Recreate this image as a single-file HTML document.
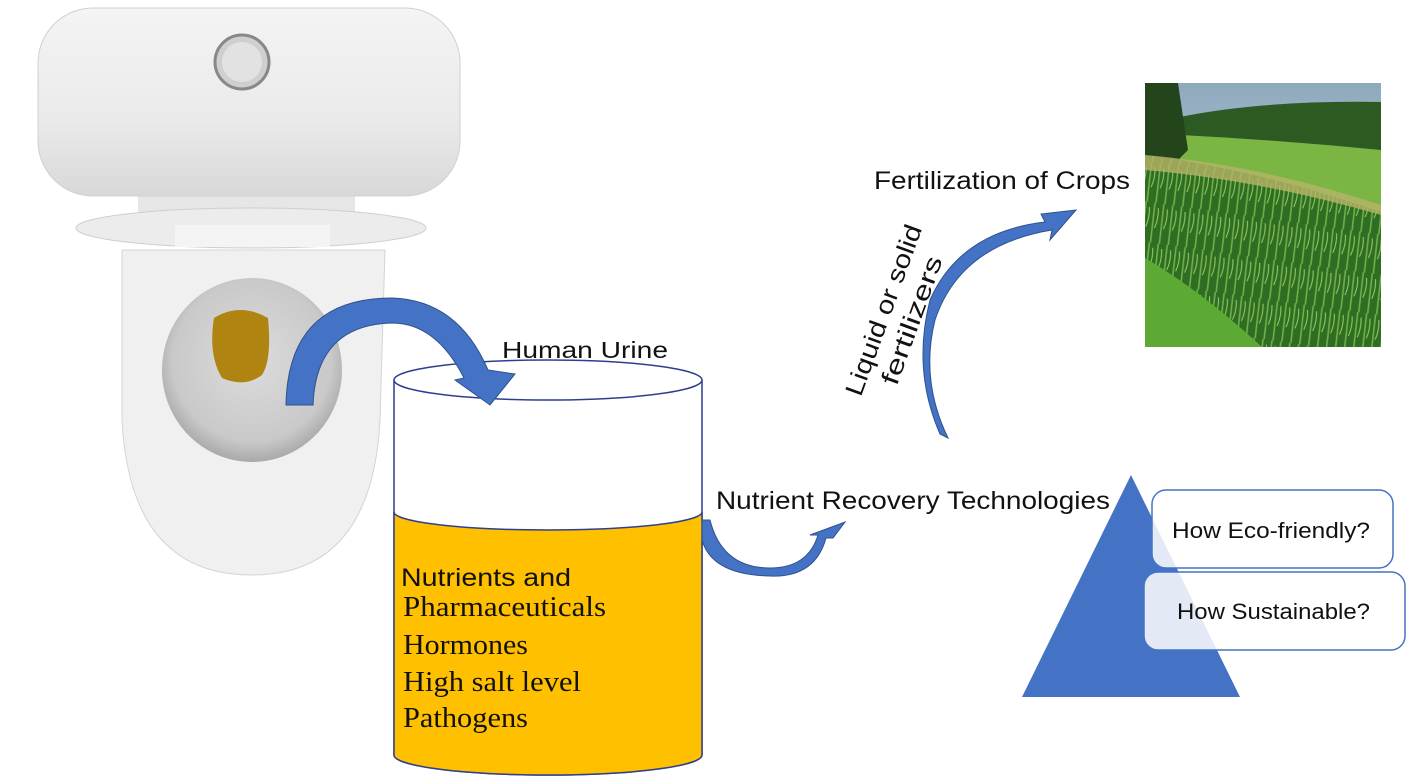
<!DOCTYPE html>
<html><head><meta charset="utf-8"><style>
html,body{margin:0;padding:0;background:#fff;}
svg{display:block;}
.s{font-family:"Liberation Sans",sans-serif;}
.r{font-family:"Liberation Serif",serif;}
</style></head><body>
<svg width="1406" height="780" viewBox="0 0 1406 780" xmlns="http://www.w3.org/2000/svg">
<defs>
<linearGradient id="tank" x1="0" y1="0" x2="0" y2="1"><stop offset="0" stop-color="#f4f4f4"/><stop offset="0.6" stop-color="#eaeaea"/><stop offset="1" stop-color="#d8d8d8"/></linearGradient>
<radialGradient id="bowlin" cx="0.5" cy="0.45" r="0.55"><stop offset="0" stop-color="#dcdcdc"/><stop offset="0.8" stop-color="#c9c9c9"/><stop offset="1" stop-color="#a9a9a9"/></radialGradient>
<linearGradient id="sky" x1="0" y1="0" x2="0" y2="1"><stop offset="0" stop-color="#8fa9bd"/><stop offset="1" stop-color="#d6e0e6"/></linearGradient>
<pattern id="corn" width="9" height="40" patternUnits="userSpaceOnUse" patternTransform="rotate(8)">
<rect width="9" height="40" fill="#2f6d22"/>
<path d="M2 0 L3 40" stroke="#6fb04a" stroke-width="1.6"/>
<path d="M6 5 Q8 15 5 25" stroke="#9bcf6a" stroke-width="1" fill="none"/>
</pattern>
</defs>
<!-- toilet -->
<rect x="138" y="190" width="217" height="30" fill="#e6e6e6"/>
<rect x="38" y="8" width="422" height="188" rx="55" fill="url(#tank)" stroke="#d0d0d0"/>
<circle cx="242" cy="62" r="27" fill="#cfcfcf" stroke="#888" stroke-width="3"/>
<circle cx="242" cy="62" r="20" fill="#e2e2e2"/>
<path d="M122 250 L385 250 L380 420 Q372 575 252 575 Q130 575 122 420 Z" fill="#f0f0f0" stroke="#d4d4d4"/>
<ellipse cx="251" cy="228" rx="175" ry="20" fill="#ececec" stroke="#cfcfcf"/>
<rect x="175" y="225" width="155" height="22" fill="#f4f4f4"/>
<ellipse cx="252" cy="370" rx="90" ry="92" fill="url(#bowlin)"/>
<path d="M214 318 Q240 302 268 318 Q272 360 262 375 Q245 388 222 378 Q208 355 214 318Z" fill="#b08410"/>
<!-- cylinder -->
<path d="M394 380 L394 755 A154 20 0 0 0 702 755 L702 380" fill="#fff" stroke="#2f3f8f" stroke-width="1.5"/>
<path d="M394 512 A154 18 0 0 0 702 512 L702 755 A154 20 0 0 1 394 755 Z" fill="#ffc000" stroke="#2f3f8f" stroke-width="1.5"/>
<ellipse cx="548" cy="380" rx="154" ry="20" fill="#fff" stroke="#2f3f8f" stroke-width="1.5"/>
<!-- arrow 1 -->
<path d="M286 405 Q288 298 392 298 Q458 300 488 370 L515 374 L490 405 L455 380 L464 378 Q436 323 392 323 Q316 325 313 405 Z" fill="#4472c4" stroke="#2f528f" stroke-width="1"/>
<text x="502" y="358" class="s" font-size="23" fill="#111" textLength="166" lengthAdjust="spacingAndGlyphs">Human Urine</text>
<text x="401" y="586" class="s" font-size="25" fill="#111" textLength="170" lengthAdjust="spacingAndGlyphs">Nutrients and</text>
<text x="403" y="616" class="r" font-size="29" fill="#111" textLength="203" lengthAdjust="spacingAndGlyphs">Pharmaceuticals</text>
<text x="403" y="654" class="r" font-size="29" fill="#111" textLength="125" lengthAdjust="spacingAndGlyphs">Hormones</text>
<text x="403" y="691" class="r" font-size="29" fill="#111" textLength="178" lengthAdjust="spacingAndGlyphs">High salt level</text>
<text x="403" y="727" class="r" font-size="29" fill="#111" textLength="125" lengthAdjust="spacingAndGlyphs">Pathogens</text>
<!-- arrow 2 -->
<path d="M702 520 L710 520 Q722 568 770 568 Q808 568 818 535 L810 535 L845 522 L833 538 L826 538 Q815 578 770 576 Q712 575 702 540 Z" fill="#4472c4" stroke="#2f528f"/>
<text x="716" y="509" class="s" font-size="25" fill="#111" textLength="394" lengthAdjust="spacingAndGlyphs">Nutrient Recovery Technologies</text>
<!-- arrow 3 -->
<path d="M948 438 Q920 380 935 320 Q960 245 1052 230 L1050 240 L1076 210 L1041 214 L1045 222 Q960 232 930 300 Q912 370 940 434 Z" fill="#4472c4" stroke="#2f528f"/>
<text x="874" y="189" class="s" font-size="25" fill="#111" textLength="256" lengthAdjust="spacingAndGlyphs">Fertilization of Crops</text>
<g transform="translate(900,316) rotate(-70)">
<text x="0" y="-9" class="s" font-size="25" fill="#111" text-anchor="middle" textLength="180" lengthAdjust="spacingAndGlyphs">Liquid or solid</text>
<text x="0" y="21" class="s" font-size="25" fill="#111" text-anchor="middle" textLength="135" lengthAdjust="spacingAndGlyphs">fertilizers</text>
</g>
<!-- picture -->
<rect x="1145" y="83" width="236" height="264" fill="url(#sky)"/>
<path d="M1175 118 Q1260 100 1381 102 L1381 160 L1175 160 Z" fill="#2d5a22"/>
<path d="M1180 135 Q1280 140 1381 150 L1381 220 L1180 180 Z" fill="#7bb645"/>
<path d="M1145 83 L1178 83 L1188 150 L1178 160 L1145 165 Z" fill="#24451c"/>
<path d="M1145 155 Q1260 170 1381 212 L1381 347 L1145 347 Z" fill="url(#corn)"/>
<path d="M1145 155 Q1260 165 1381 205 L1381 215 Q1260 180 1145 170 Z" fill="#b6b468" opacity="0.8"/>
<path d="M1145 258 Q1200 290 1262 347 L1145 347 Z" fill="#5caa34"/>
<!-- triangle -->
<polygon points="1131,475 1022,697 1240,697" fill="#4472c4"/>
<rect x="1152" y="490" width="241" height="78" rx="14" fill="#fff" fill-opacity="0.85" stroke="#4472c4" stroke-width="1.5"/>
<rect x="1144" y="572" width="261" height="78" rx="14" fill="#fff" fill-opacity="0.85" stroke="#4472c4" stroke-width="1.5"/>
<text x="1172" y="538" class="s" font-size="22" fill="#111" textLength="198" lengthAdjust="spacingAndGlyphs">How Eco-friendly?</text>
<text x="1177" y="619" class="s" font-size="22" fill="#111" textLength="193" lengthAdjust="spacingAndGlyphs">How Sustainable?</text>
</svg>
</body></html>
